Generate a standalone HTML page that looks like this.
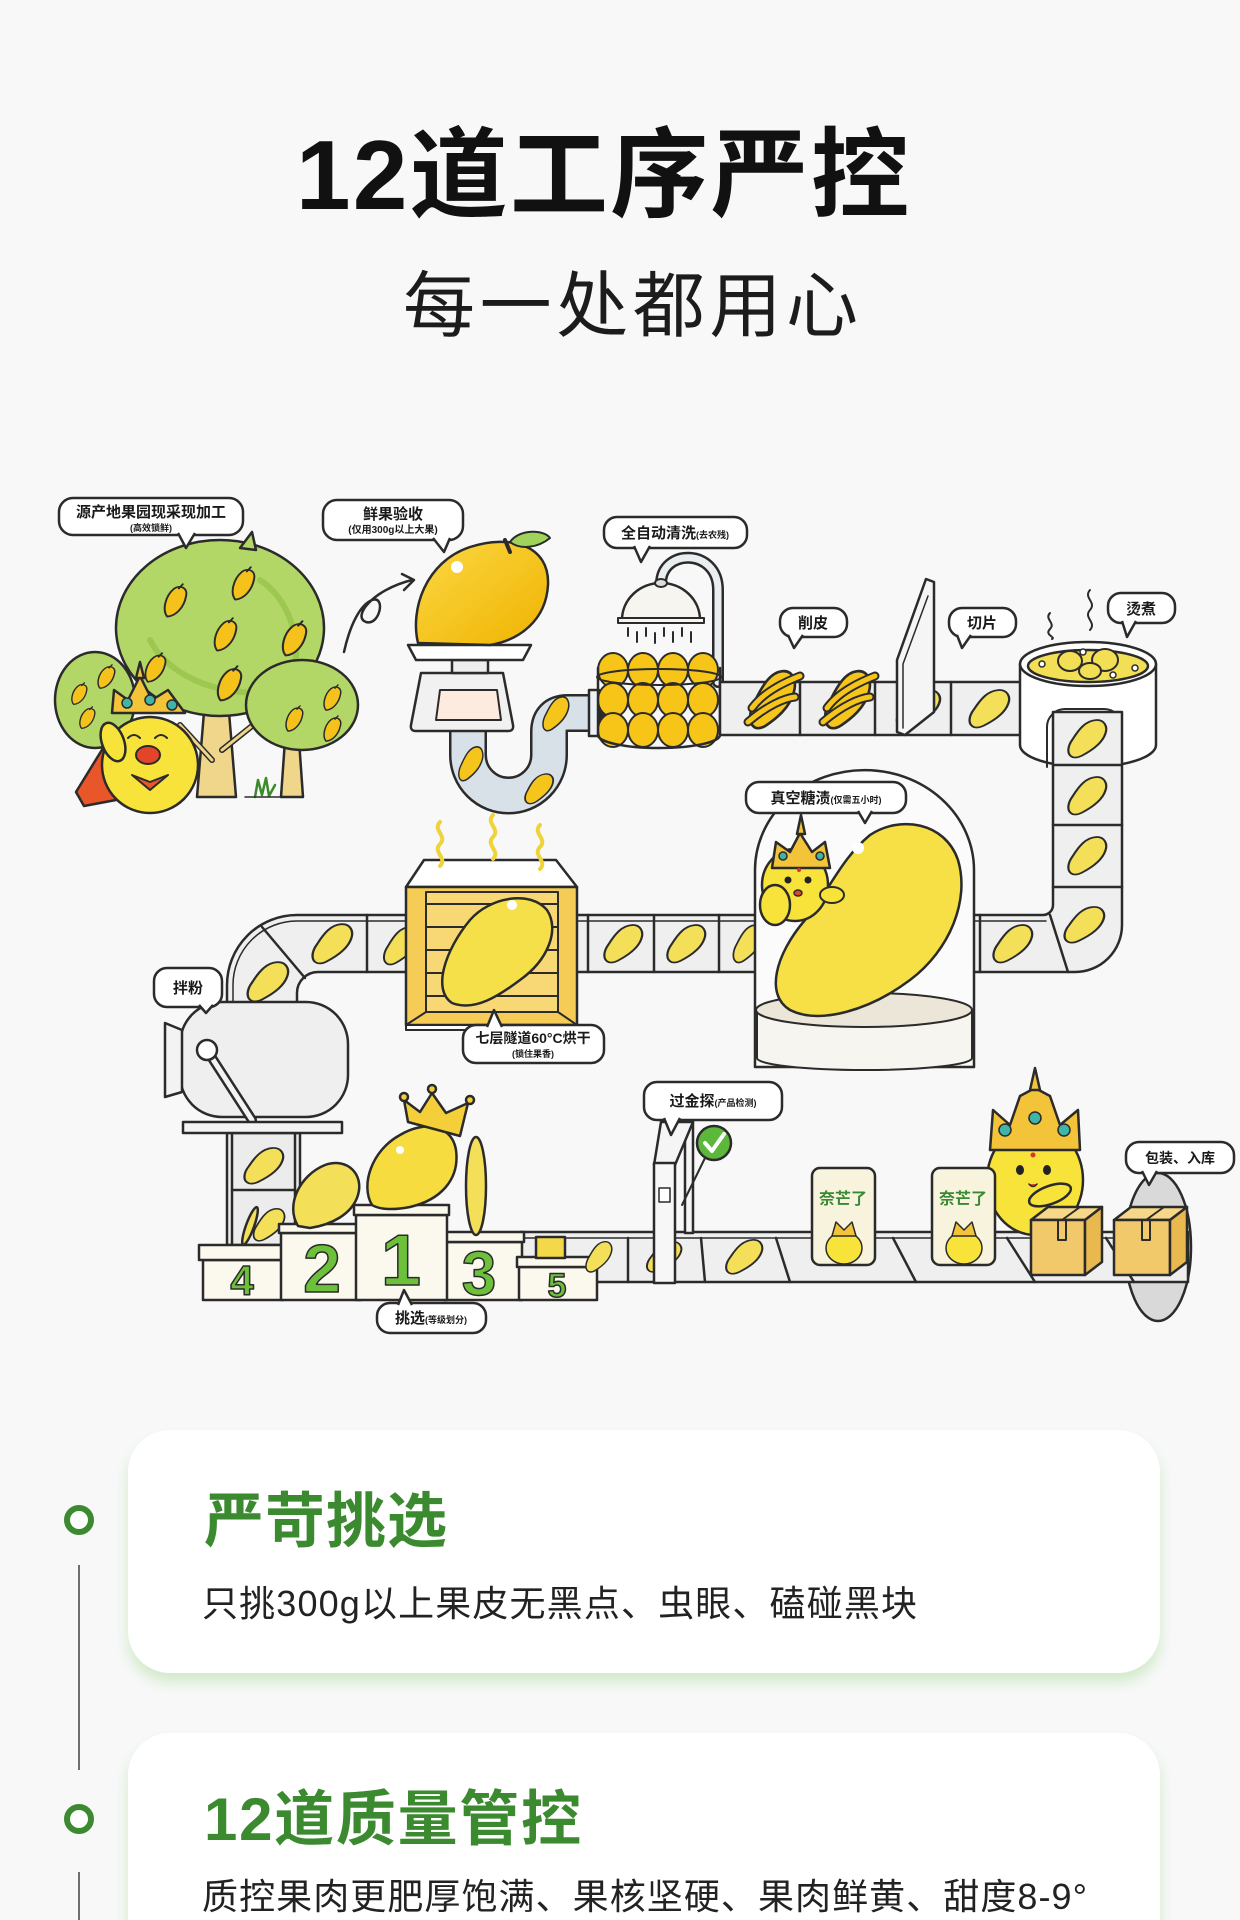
<!DOCTYPE html>
<html><head><meta charset="utf-8">
<style>
html,body{margin:0;padding:0;}
body{width:1240px;height:1920px;background:#f8f8f9;overflow:hidden;}
svg text{font-family:"Liberation Sans","Noto Sans CJK SC",sans-serif;}
</style></head><body>
<svg width="1240" height="1920" viewBox="0 0 1240 1920" xmlns="http://www.w3.org/2000/svg" style="display:block">
<defs>
  <symbol id="sl" viewBox="0 0 100 120" preserveAspectRatio="none">
    <path d="M20,112 C5,105 8,80 20,60 C35,30 50,8 72,6 C92,4 100,25 94,45 C86,75 60,95 40,108 C32,113 26,114 20,112 Z" fill="#f4df58" stroke="#2b2b2b" stroke-width="5"/>
  </symbol>
  <symbol id="gm" viewBox="0 0 100 120" preserveAspectRatio="none">
    <path d="M20,112 C5,105 8,80 20,60 C35,30 50,8 72,6 C92,4 100,25 94,45 C86,75 60,95 40,108 C32,113 26,114 20,112 Z" fill="#f6c51c" stroke="#2b2b2b" stroke-width="5"/>
  </symbol>
  <symbol id="tm" viewBox="0 0 40 60" preserveAspectRatio="none">
    <path d="M8,56 C0,45 5,22 18,10 C28,2 40,8 37,22 C34,40 22,55 8,56 Z" fill="#f5c21c" stroke="#2b2b2b" stroke-width="3"/>
    <path d="M26,9 L32,2" stroke="#2b2b2b" stroke-width="3"/>
  </symbol>
  <linearGradient id="gold" x1="0" y1="0" x2="1" y2="1">
    <stop offset="0" stop-color="#fbd844"/><stop offset="1" stop-color="#f0b300"/>
  </linearGradient>
  <filter id="cs" x="-5%" y="-10%" width="110%" height="130%">
    <feDropShadow dx="0" dy="9" stdDeviation="7" flood-color="#bfe4b2" flood-opacity="0.7"/>
  </filter>
</defs>

<rect width="1240" height="1920" fill="#f8f8f9"/>

<!-- Title -->
<text x="296" y="209" font-size="98" font-weight="700" fill="#111" textLength="613" lengthAdjust="spacing">12道工序严控</text>
<text x="403" y="331" font-size="72" fill="#1c1c1c" textLength="455" lengthAdjust="spacing">每一处都用心</text>

<g stroke="#2b2b2b" stroke-width="2.5" stroke-linejoin="round" stroke-linecap="round">

<!-- ===== Trees ===== -->
<polygon points="285,740 299,740 303,797 281,797" fill="#f0d68a"/>
<ellipse cx="95" cy="700" rx="40" ry="48" fill="#b3d766"/>
<polygon points="204,712 229,712 236,797 197,797" fill="#f0d68a"/>
<path d="M212,760 L180,725 M222,750 L262,718" fill="none" stroke-width="6" stroke="#2b2b2b"/>
<path d="M212,760 L180,725 M222,750 L262,718" fill="none" stroke-width="3" stroke="#f0d68a"/>
<ellipse cx="220" cy="628" rx="104" ry="88" fill="#b3d766"/>
<path d="M240,548 L252,532 L256,550 Z" fill="#b3d766"/>
<path d="M150,640 C170,680 230,700 280,690 M260,580 C290,600 300,640 295,665" fill="none" stroke="#9cc850" stroke-width="6"/>
<ellipse cx="302" cy="705" rx="56" ry="45" fill="#b3d766"/>
<use href="#tm" x="162" y="583" width="26" height="36"/>
<use href="#tm" x="230" y="566" width="26" height="36"/>
<use href="#tm" x="212" y="617" width="26" height="36"/>
<use href="#tm" x="280" y="620" width="28" height="38"/>
<use href="#tm" x="143" y="652" width="24" height="32"/>
<use href="#tm" x="215" y="665" width="28" height="38"/>
<use href="#tm" x="96" y="664" width="20" height="26"/>
<use href="#tm" x="70" y="682" width="18" height="24"/>
<use href="#tm" x="78" y="706" width="18" height="24"/>
<use href="#tm" x="322" y="684" width="20" height="28"/>
<use href="#tm" x="284" y="705" width="20" height="28"/>
<use href="#tm" x="322" y="715" width="20" height="28"/>
<path d="M255,797 L258,780 L262,795 L266,778 L269,796 L275,785" fill="none" stroke="#3d8a2a" stroke-width="2.5"/>
<line x1="245" y1="797" x2="285" y2="797" stroke-width="1.5"/>

<!-- mascot 1 -->
<path d="M108,740 L76,792 L84,806 L116,800 Z" fill="#e8562a"/>
<ellipse cx="150" cy="765" rx="48" ry="48" fill="#f8e33a"/>
<ellipse cx="113" cy="742" rx="11" ry="20" fill="#f8e33a" transform="rotate(-20 113 742)"/>
<path d="M112,713 L114,690 L128,700 L140,676 L152,700 L168,690 L185,713 Z" fill="#f3c43a"/>
<polygon points="136,678 140,662 144,678" fill="#f3c43a"/>
<circle cx="127" cy="703" r="5" fill="#3fb5a8" stroke-width="1.5"/>
<circle cx="150" cy="700" r="5" fill="#3fb5a8" stroke-width="1.5"/>
<circle cx="172" cy="705" r="5" fill="#3fb5a8" stroke-width="1.5"/>
<path d="M128,738 q6,-6 12,0 M155,738 q6,-6 12,0" fill="none" stroke-width="2"/>
<ellipse cx="148" cy="755" rx="12" ry="9" fill="#e2452a" stroke-width="2"/>
<path d="M132,775 L150,782 L168,775 L150,790 Z" fill="#e8562a" stroke-width="2"/>

<!-- arrow -->
<path d="M344,652 C350,625 360,605 372,600 C386,595 380,626 366,622 C352,617 372,590 412,580" fill="none" stroke-width="2.5"/>
<path d="M402,574 L414,580 L404,590" fill="none" stroke-width="2.5"/>

<!-- pipe -->
<path d="M468,726 V755 A40.5,40.5 0 0 0 549,755 V732 Q549,713 568,713 H600" fill="none" stroke="#2b2b2b" stroke-width="38"/>
<path d="M468,726 V755 A40.5,40.5 0 0 0 549,755 V732 Q549,713 568,713 H600" fill="none" stroke="#d7e1e7" stroke-width="33" stroke-linecap="butt"/>
<rect x="589" y="690" width="10" height="46" fill="#eef2f4"/>
<use href="#gm" x="456" y="745" width="28" height="38"/>
<use href="#gm" x="540" y="695" width="30" height="38"/>
<use href="#gm" x="520" y="774" width="36" height="30" transform="rotate(-10 538 789)"/>

<!-- scale -->
<path d="M421,673 H503 L513,725 Q514,731 508,731 H416 Q410,731 411,725 Z" fill="#f1f1f1"/>
<rect x="452" y="660" width="36" height="13" fill="#eeeeee"/>
<polygon points="408,645 531,645 523,660 416,660" fill="#ffffff"/>
<polygon points="440,690 497,690 501,720 436,720" fill="#fdebe0" stroke-width="2"/>
<path d="M418,643 C410,610 425,562 470,547 C510,534 550,545 548,585 C546,620 520,640 490,645 Z" fill="url(#gold)"/>
<circle cx="457" cy="567" r="6" fill="#fff" stroke="none"/>
<path d="M505,540 L510,552" stroke-width="4"/>
<path d="M510,542 C520,528 545,530 550,538 C538,548 520,550 510,542 Z" fill="#9fd35a" stroke-width="2"/>

<!-- ===== wash ===== -->
<path d="M661,584 C661,548 718,548 718,590 V682" fill="none" stroke="#2b2b2b" stroke-width="12"/>
<path d="M661,584 C661,548 718,548 718,590 V682" fill="none" stroke="#e9eef0" stroke-width="7"/>
<path d="M622,620 A39,37 0 0 1 700,620 Z" fill="#f7f5f0"/>
<rect x="618" y="618" width="86" height="5" fill="#f7f5f0" stroke-width="2"/>
<ellipse cx="661" cy="583" rx="6" ry="4" fill="#ddd" stroke-width="2"/>
<path d="M628,628 v8 M637,632 v10 M646,628 v8 M655,633 v10 M664,628 v8 M673,632 v10 M682,628 v8 M691,632 v10" stroke-width="2"/>
<g stroke-width="2">
<ellipse cx="613" cy="670" rx="15" ry="17" fill="#f6c518"/><ellipse cx="643" cy="670" rx="15" ry="17" fill="#f6c518"/><ellipse cx="673" cy="670" rx="15" ry="17" fill="#f6c518"/><ellipse cx="703" cy="670" rx="15" ry="17" fill="#f6c518"/>
<ellipse cx="613" cy="700" rx="15" ry="17" fill="#f6c518"/><ellipse cx="643" cy="700" rx="15" ry="17" fill="#f6c518"/><ellipse cx="673" cy="700" rx="15" ry="17" fill="#f6c518"/><ellipse cx="703" cy="700" rx="15" ry="17" fill="#f6c518"/>
<ellipse cx="613" cy="730" rx="15" ry="17" fill="#f6c518"/><ellipse cx="643" cy="730" rx="15" ry="17" fill="#f6c518"/><ellipse cx="673" cy="730" rx="15" ry="17" fill="#f6c518"/><ellipse cx="703" cy="730" rx="15" ry="17" fill="#f6c518"/>
</g>
<path d="M598,668 V735 A61,13 0 0 0 720,735 V668" fill="none"/>
<ellipse cx="659" cy="677" rx="62" ry="8" fill="none" stroke-width="2"/>

<!-- top belt -->
<rect x="720" y="682" width="302" height="53" fill="#efefef"/>
<line x1="800" y1="682" x2="800" y2="735"/><line x1="875" y1="682" x2="875" y2="735"/><line x1="951" y1="682" x2="951" y2="735"/>
<use href="#gm" x="745" y="668" width="52" height="64"/>
<use href="#gm" x="820" y="668" width="52" height="64"/>
<path d="M752,708 C765,690 790,680 800,676 M748,722 C768,705 785,698 795,697" fill="none" stroke="#2b2b2b" stroke-width="9"/>
<path d="M752,708 C765,690 790,680 800,676 M748,722 C768,705 785,698 795,697" fill="none" stroke="#f6c51c" stroke-width="5"/>
<path d="M827,708 C840,690 865,680 875,676 M823,722 C843,705 860,698 870,697" fill="none" stroke="#2b2b2b" stroke-width="9"/>
<path d="M827,708 C840,690 865,680 875,676 M823,722 C843,705 860,698 870,697" fill="none" stroke="#f6c51c" stroke-width="5"/>
<use href="#sl" x="892" y="688" width="50" height="42"/>
<polygon points="897,732 897,660 926,579 934,582 934,712 905,735" fill="#f5f5f5"/>
<path d="M903,728 V664 L928,596" fill="none" stroke-width="1.5"/>
<use href="#sl" x="965" y="688" width="46" height="42"/>

<!-- pot -->
<path d="M1020,664 V745 A68,22 0 0 0 1156,745 V664" fill="#ffffff"/>
<ellipse cx="1088" cy="664" rx="68" ry="22" fill="#ffffff"/>
<ellipse cx="1088" cy="666" rx="60" ry="16" fill="#f3df55"/>
<ellipse cx="1070" cy="661" rx="12" ry="10" fill="#f3df55" stroke-width="2"/>
<ellipse cx="1105" cy="660" rx="13" ry="11" fill="#f3df55" stroke-width="2"/>
<ellipse cx="1090" cy="671" rx="11" ry="8" fill="#f3df55" stroke-width="2"/>
<circle cx="1042" cy="664" r="3" fill="#fff" stroke-width="1.5"/><circle cx="1083" cy="652" r="3" fill="#fff" stroke-width="1.5"/><circle cx="1135" cy="668" r="3" fill="#fff" stroke-width="1.5"/><circle cx="1113" cy="675" r="3" fill="#fff" stroke-width="1.5"/>
<path d="M1050,613 c-6,6 6,10 0,16 c-6,6 6,8 2,10" fill="none" stroke-width="2"/>
<path d="M1090,590 c-7,8 7,12 0,20 c-7,8 7,12 0,20" fill="none" stroke-width="2"/>
<path d="M1047,767 V727 A18,18 0 0 1 1065,709 H1104 A18,18 0 0 1 1122,727 V767" fill="none" stroke-width="2"/>

<!-- middle belt -->
<path d="M227,1003 V985 A70,70 0 0 1 297,915 H1043 A10,10 0 0 0 1053,905 V712 H1122 V925 A47,47 0 0 1 1075,972 H318 A21,21 0 0 0 297,993 V1003 Z" fill="#efefef"/>
<path d="M233,1002 V985 A64,64 0 0 1 297,921 H1046" fill="none" stroke-width="1.5"/>
<line x1="1053" y1="765" x2="1122" y2="765"/><line x1="1053" y1="825" x2="1122" y2="825"/><line x1="1053" y1="887" x2="1122" y2="887"/>
<line x1="1050" y1="915" x2="1068" y2="972"/>
<line x1="367" y1="915" x2="367" y2="972"/><line x1="588" y1="915" x2="588" y2="972"/><line x1="654" y1="915" x2="654" y2="972"/><line x1="719" y1="915" x2="719" y2="972"/><line x1="980" y1="915" x2="980" y2="972"/>
<line x1="262" y1="927" x2="305" y2="978"/>
<use href="#sl" x="1064" y="718" width="44" height="42"/>
<use href="#sl" x="1064" y="775" width="44" height="42"/>
<use href="#sl" x="1064" y="835" width="44" height="42"/>
<use href="#sl" x="1060" y="905" width="46" height="40"/>
<use href="#sl" x="989" y="923" width="45" height="42"/>
<use href="#sl" x="600" y="923" width="44" height="42"/>
<use href="#sl" x="663" y="923" width="44" height="42"/>
<use href="#sl" x="730" y="923" width="34" height="42"/>
<use href="#sl" x="308" y="922" width="46" height="44"/>
<use href="#sl" x="380" y="925" width="40" height="42"/>
<use href="#sl" x="243" y="960" width="47" height="44"/>

<!-- oven -->
<polygon points="424,860 556,860 577,887 406,887" fill="#ffffff"/>
<rect x="406" y="887" width="171" height="138" fill="#f5cc55"/>
<rect x="426" y="892" width="132" height="120" fill="#f8d874" stroke-width="2"/>
<path d="M426,904 H558 M426,927 H558 M426,950 H558 M426,973 H558 M426,996 H558" stroke-width="2"/>
<path d="M406,1025 L426,1012 M577,1025 L558,1012" stroke-width="2"/>
<rect x="406" y="1025" width="171" height="5" fill="#fff" stroke-width="2"/>
<path d="M452,1003 C432,990 445,950 470,920 C490,897 530,890 547,910 C560,930 548,960 520,980 C500,995 475,1012 452,1003 Z" fill="#f6e04a"/>
<circle cx="512" cy="905" r="5" fill="#fff" stroke="none"/>
<path d="M440,822 c-8,8 8,14 0,22 c-8,8 8,14 0,22 M493,815 c-8,8 8,14 0,22 c-8,8 8,14 0,22 M540,825 c-8,8 8,14 0,22 c-8,8 8,14 0,22" fill="none" stroke="#efd33a" stroke-width="4"/>

<!-- bell jar -->
<path d="M755,1067 V870 A109.5,100 0 0 1 974,870 V1067 Z" fill="#fbfbfb"/>
<path d="M757,1010 V1058 A107,12 0 0 0 972,1058 V1010" fill="#f7f5ef" stroke-width="2"/>
<ellipse cx="864" cy="1010" rx="108" ry="17" fill="#ece6d8" stroke-width="2"/>
<path d="M790,1010 C765,995 775,955 805,920 C830,890 840,860 870,835 C900,815 945,822 958,860 C970,900 950,950 910,980 C870,1010 820,1025 790,1010 Z" fill="#f6e045"/>
<circle cx="858" cy="848" r="6" fill="#fff" stroke="none"/>
<ellipse cx="795" cy="885" rx="33" ry="36" fill="#f8e33a"/>
<ellipse cx="775" cy="905" rx="15" ry="20" fill="#f8e33a"/>
<ellipse cx="832" cy="895" rx="12" ry="8" fill="#f8e33a" stroke-width="2"/>
<path d="M772,868 L776,842 L790,852 L800,833 L812,852 L825,842 L830,868 Z" fill="#f3c43a"/>
<polygon points="797,834 801,815 805,834" fill="#f3c43a"/>
<circle cx="783" cy="856" r="4" fill="#3fb5a8" stroke-width="1.5"/><circle cx="820" cy="856" r="4" fill="#3fb5a8" stroke-width="1.5"/>
<circle cx="788" cy="880" r="3.5" fill="#222" stroke="none"/><circle cx="808" cy="880" r="3.5" fill="#222" stroke="none"/>
<circle cx="799" cy="870" r="2" fill="#d33" stroke="none"/>
<ellipse cx="798" cy="893" rx="4" ry="3" fill="#e2452a" stroke-width="1.5"/>

<!-- mixer -->
<rect x="180" y="1002" width="168" height="115" rx="42" fill="#efefef"/>
<polygon points="165,1023 182,1030 182,1092 165,1097" fill="#f3f3f3"/>
<line x1="212" y1="1058" x2="252" y2="1120" stroke="#2b2b2b" stroke-width="10"/>
<line x1="212" y1="1058" x2="252" y2="1120" stroke="#f3f3f3" stroke-width="5"/>
<circle cx="207" cy="1050" r="10" fill="#fff"/>
<rect x="227" y="1133" width="73" height="112" fill="#ececec"/>
<line x1="232" y1="1133" x2="232" y2="1245"/><line x1="295" y1="1133" x2="295" y2="1245"/>
<line x1="232" y1="1190" x2="295" y2="1190"/>
<rect x="183" y="1122" width="159" height="11" fill="#f4f4f4"/>
<use href="#sl" x="240" y="1146" width="45" height="40"/>
<use href="#sl" x="250" y="1207" width="36" height="36"/>
<ellipse cx="250" cy="1226" rx="4" ry="20" fill="#f4df58" transform="rotate(20 250 1226)"/>

<!-- bottom belt -->
<ellipse cx="1158" cy="1247" rx="33" ry="74" fill="#d9d9d9"/>
<rect x="520" y="1232" width="668" height="50" fill="#efefef"/>
<line x1="520" y1="1238" x2="1188" y2="1238" stroke-width="1.5"/>
<line x1="628" y1="1238" x2="628" y2="1282"/><line x1="701" y1="1238" x2="705" y2="1282"/><line x1="776" y1="1238" x2="790" y2="1282"/><line x1="893" y1="1238" x2="916" y2="1282"/><line x1="1007" y1="1238" x2="1035" y2="1282"/><line x1="1106" y1="1238" x2="1134" y2="1282"/>
<use href="#sl" x="643" y="1240" width="40" height="34"/>
<use href="#sl" x="722" y="1238" width="42" height="38"/>

<!-- podium -->
<g fill="#fbf8ee">
<rect x="203" y="1260" width="80" height="40"/><rect x="199" y="1245" width="86" height="15"/>
<rect x="281" y="1233" width="80" height="67"/><rect x="279" y="1224" width="84" height="9"/>
<rect x="444" y="1242" width="78" height="58"/><rect x="442" y="1232" width="82" height="10"/>
<rect x="519" y="1267" width="78" height="33"/><rect x="517" y="1257" width="82" height="10"/>
<rect x="356" y="1215" width="91" height="85"/><rect x="354" y="1205" width="95" height="10"/>
</g>
<g font-family="Liberation Sans, sans-serif" font-weight="700" fill="#6cc03a" stroke="#2b2b2b" stroke-width="1.5" text-anchor="middle">
<text x="242" y="1295" font-size="42">4</text>
<text x="322" y="1292" font-size="68">2</text>
<text x="401" y="1285" font-size="72">1</text>
<text x="479" y="1295" font-size="62">3</text>
<text x="557" y="1297" font-size="34">5</text>
</g>
<use href="#sl" x="583" y="1240" width="30" height="34"/>
<path d="M298,1226 C285,1205 300,1175 325,1165 C348,1157 364,1175 358,1195 C352,1215 330,1225 310,1228 Z" fill="#f4df58"/>
<ellipse cx="476" cy="1186" rx="10" ry="49" fill="#f4df58"/>
<rect x="536" y="1237" width="29" height="21" fill="#f3d94a"/>
<path d="M372,1205 C360,1185 372,1150 400,1135 C425,1120 452,1125 456,1150 C460,1180 440,1200 410,1207 C395,1210 380,1210 372,1205 Z" fill="#f6dc3e"/>
<circle cx="400" cy="1150" r="4" fill="#fff" stroke="none"/>
<polygon points="408,1122 404,1100 420,1112 432,1093 446,1113 468,1103 460,1136" fill="#f4cf3a"/>
<circle cx="404" cy="1097" r="4" fill="#f4cf3a"/><circle cx="432" cy="1089" r="4" fill="#f4cf3a"/><circle cx="470" cy="1100" r="4" fill="#f4cf3a"/>

<!-- metal detector -->
<rect x="685" y="1120" width="8" height="113" fill="#f5f5f5"/>
<polygon points="661,1122 693,1122 675,1165 654,1165" fill="#f5f5f5"/>
<rect x="654" y="1163" width="21" height="120" fill="#f7f7f7"/>
<rect x="659" y="1188" width="11" height="14" fill="#fff" stroke-width="1.5"/>
<line x1="705" y1="1158" x2="682" y2="1205" stroke-width="2"/>
<circle cx="714" cy="1143" r="17" fill="#5bb83a"/>
<path d="M705,1143 L712,1151 L724,1134" fill="none" stroke="#fff" stroke-width="4"/>

<!-- bags -->
<rect x="812" y="1168" width="63" height="97" rx="8" fill="#f8f3dc"/>
<text x="843" y="1204" font-size="16" font-weight="700" fill="#3a8a34" stroke="none" text-anchor="middle">奈芒了</text>
<ellipse cx="844" cy="1248" rx="18" ry="16" fill="#f8e33a" stroke-width="1.5"/>
<polygon points="832,1236 836,1222 844,1230 852,1222 856,1236" fill="#f3c43a" stroke-width="1.5"/>

<!-- mascot 2 -->
<ellipse cx="1035" cy="1180" rx="48" ry="55" fill="#f8e33a"/>
<path d="M990,1150 L993,1110 L1010,1125 L1020,1096 L1035,1088 L1050,1096 L1060,1125 L1078,1110 L1080,1150 Z" fill="#f3c33a"/>
<polygon points="1030,1090 1035,1068 1040,1090" fill="#f3c33a"/>
<circle cx="1005" cy="1130" r="6" fill="#3fb5a8" stroke-width="1.5"/><circle cx="1035" cy="1118" r="6" fill="#3fb5a8" stroke-width="1.5"/><circle cx="1064" cy="1130" r="6" fill="#3fb5a8" stroke-width="1.5"/>
<ellipse cx="1020" cy="1170" rx="4" ry="5" fill="#222" stroke="none"/><ellipse cx="1047" cy="1170" rx="4" ry="5" fill="#222" stroke="none"/>
<circle cx="1033" cy="1155" r="2.5" fill="#d33" stroke="none"/>
<path d="M1029,1184 q4,5 8,0" fill="#e2452a" stroke-width="1.5"/>
<ellipse cx="1050" cy="1195" rx="22" ry="9" fill="#f8e33a" transform="rotate(-20 1050 1195)"/>

<rect x="932" y="1168" width="63" height="97" rx="8" fill="#f8f3dc"/>
<text x="963" y="1204" font-size="16" font-weight="700" fill="#3a8a34" stroke="none" text-anchor="middle">奈芒了</text>
<ellipse cx="964" cy="1248" rx="18" ry="16" fill="#f8e33a" stroke-width="1.5"/>
<polygon points="952,1236 956,1222 964,1230 972,1222 976,1236" fill="#f3c43a" stroke-width="1.5"/>

<!-- boxes -->
<polygon points="1031,1220 1048,1207 1102,1207 1085,1220" fill="#f6d888"/>
<rect x="1031" y="1220" width="54" height="55" fill="#f2c96a"/>
<polygon points="1085,1220 1102,1207 1102,1262 1085,1275" fill="#e9b94f"/>
<path d="M1058,1220 V1240 H1066 V1220 M1062,1220 L1080,1207" fill="none" stroke-width="2"/>
<polygon points="1114,1220 1131,1207 1187,1207 1170,1220" fill="#f6d888"/>
<rect x="1114" y="1220" width="56" height="55" fill="#f2c96a"/>
<polygon points="1170,1220 1187,1207 1187,1262 1170,1275" fill="#e9b94f"/>
<path d="M1142,1220 V1240 H1150 V1220 M1146,1220 L1164,1207" fill="none" stroke-width="2"/>
</g>

<!-- ===== Bubbles ===== -->
<g stroke="#2b2b2b" stroke-width="2.5" fill="#fff" stroke-linejoin="round">
<rect x="59" y="498" width="184" height="37" rx="14"/><polyline points="178,533 186,548 195,533"/>
<rect x="323" y="500" width="140" height="40" rx="14"/><polyline points="433,538 444,552 450,538"/>
<rect x="604" y="517" width="143" height="31" rx="13"/><polyline points="634,546 641,562 650,546"/>
<rect x="780" y="608" width="67" height="29" rx="13"/><polyline points="788,635 794,648 803,635"/>
<rect x="949" y="608" width="67" height="29" rx="13"/><polyline points="957,635 962,648 971,635"/>
<rect x="1108" y="593" width="67" height="30" rx="13"/><polyline points="1122,621 1127,637 1136,621"/>
<rect x="746" y="782" width="160" height="31" rx="13"/><polyline points="858,811 865,823 872,811"/>
<rect x="154" y="968" width="68" height="39" rx="13"/><polyline points="199,1005 206,1013 213,1005"/>
<rect x="463" y="1025" width="141" height="38" rx="13"/><polyline points="487,1027 494,1010 502,1027"/>
<rect x="377" y="1303" width="109" height="30" rx="13"/><polyline points="398,1305 404,1290 412,1305"/>
<rect x="644" y="1082" width="138" height="38" rx="13"/><polyline points="664,1118 671,1135 680,1118"/>
<rect x="1126" y="1142" width="108" height="31" rx="13"/><polyline points="1142,1171 1149,1185 1157,1171"/>
</g>
<g fill="#1a1a1a" font-weight="700" text-anchor="middle">
<text x="151" y="517" font-size="15">源产地果园现采现加工</text>
<text x="151" y="531" font-size="9">(高效锁鲜)</text>
<text x="393" y="519" font-size="15">鲜果验收</text>
<text x="393" y="533" font-size="10">(仅用300g以上大果)</text>
<text x="675" y="538" font-size="15">全自动清洗<tspan font-size="9">(去农残)</tspan></text>
<text x="813" y="628" font-size="15">削皮</text>
<text x="982" y="628" font-size="15">切片</text>
<text x="1141" y="614" font-size="15">烫煮</text>
<text x="826" y="803" font-size="15">真空糖渍<tspan font-size="9">(仅需五小时)</tspan></text>
<text x="188" y="993" font-size="15">拌粉</text>
<text x="533" y="1043" font-size="14">七层隧道60°C烘干</text>
<text x="533" y="1057" font-size="9">(锁住果香)</text>
<text x="431" y="1323" font-size="15">挑选<tspan font-size="9">(等级划分)</tspan></text>
<text x="713" y="1106" font-size="15">过金探<tspan font-size="9">(产品检测)</tspan></text>
<text x="1180" y="1163" font-size="14">包装、入库</text>
</g>

<!-- ===== Cards ===== -->
<rect x="128" y="1430" width="1032" height="243" rx="42" fill="#fff" filter="url(#cs)"/>
<rect x="128" y="1733" width="1032" height="260" rx="42" fill="#fff" filter="url(#cs)"/>
<line x1="79" y1="1565" x2="79" y2="1770" stroke="#6f6f6f" stroke-width="2"/>
<line x1="79" y1="1872" x2="79" y2="1920" stroke="#6f6f6f" stroke-width="2"/>
<circle cx="79" cy="1520" r="12" fill="#fff" stroke="#3b8a2f" stroke-width="6"/>
<circle cx="79" cy="1819" r="12" fill="#fff" stroke="#3b8a2f" stroke-width="6"/>
<text x="204" y="1542" font-size="60" font-weight="700" fill="#3b8a2f" textLength="243" lengthAdjust="spacing">严苛挑选</text>
<text x="202" y="1616" font-size="36" fill="#222" textLength="715" lengthAdjust="spacing">只挑300g以上果皮无黑点、虫眼、磕碰黑块</text>
<text x="204" y="1840" font-size="60" font-weight="700" fill="#3b8a2f" textLength="377" lengthAdjust="spacing">12道质量管控</text>
<text x="202" y="1909" font-size="36" fill="#222" textLength="885" lengthAdjust="spacing">质控果肉更肥厚饱满、果核坚硬、果肉鲜黄、甜度8-9°</text>
</svg>
</body></html>
